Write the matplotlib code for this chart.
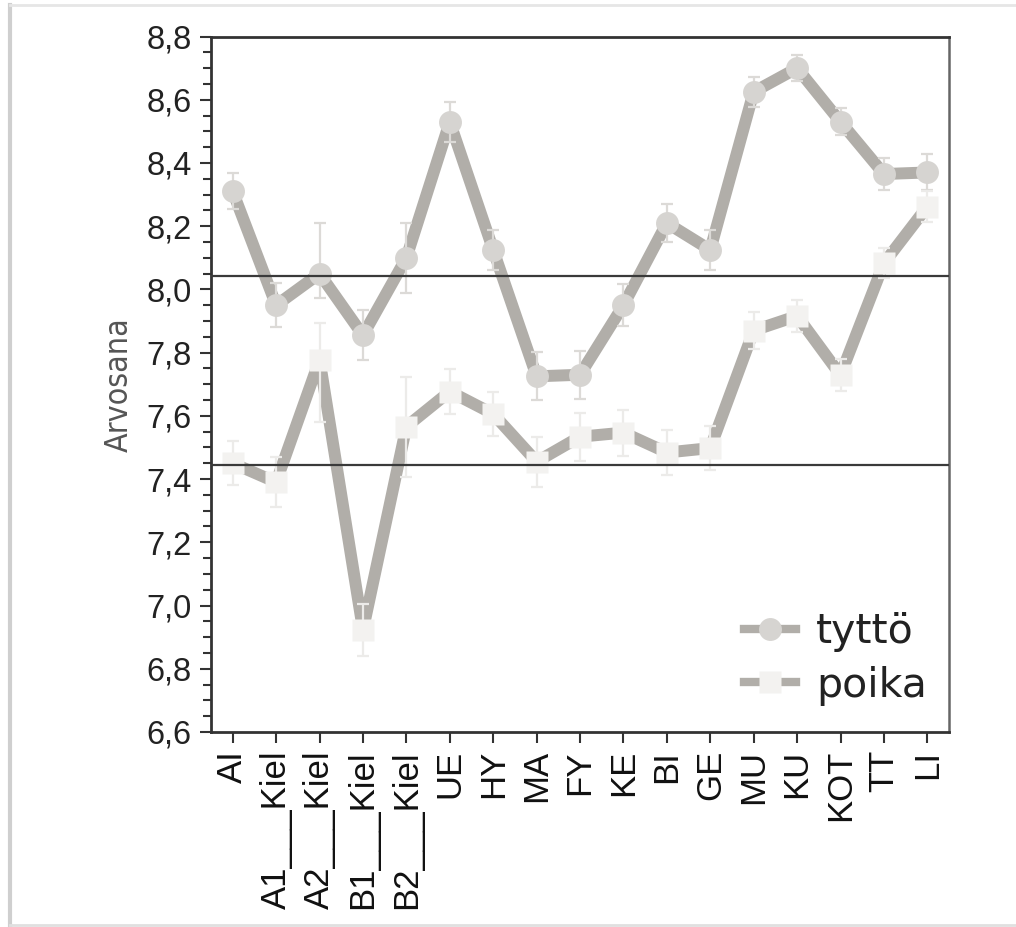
import matplotlib.pyplot as plt
import numpy as np
from matplotlib.ticker import MultipleLocator, FuncFormatter
from matplotlib.lines import Line2D

subjects = ['AI', 'A1___Kiel', 'A2___Kiel', 'B1___Kiel', 'B2___Kiel', 'UE', 'HY', 'MA',
            'FY', 'KE', 'BI', 'GE', 'MU', 'KU', 'KOT', 'TT', 'LI']

tytto = [8.31, 7.95, 8.05, 7.855, 8.10, 8.53, 8.125, 7.725, 7.73, 7.95, 8.21, 8.125,
         8.625, 8.70, 8.53, 8.365, 8.37]
tytto_err_lo = [0.057, 0.07, 0.076, 0.079, 0.11, 0.063, 0.063, 0.076, 0.076, 0.066, 0.06,
                0.063, 0.047, 0.041, 0.043, 0.05, 0.057]
tytto_err_hi = [0.057, 0.07, 0.161, 0.079, 0.11, 0.063, 0.063, 0.076, 0.076, 0.066, 0.06,
                0.063, 0.047, 0.041, 0.043, 0.05, 0.057]

poika = [7.45, 7.39, 7.777, 6.923, 7.566, 7.677, 7.606, 7.455, 7.534, 7.547, 7.484, 7.498,
         7.87, 7.916, 7.729, 8.083, 8.262]
poika_err_lo = [0.07, 0.079, 0.196, 0.082, 0.158, 0.07, 0.07, 0.079, 0.076, 0.073, 0.07, 0.07,
                0.057, 0.05, 0.05, 0.047, 0.05]
poika_err_hi = [0.07, 0.079, 0.117, 0.082, 0.158, 0.07, 0.07, 0.079, 0.076, 0.073, 0.07, 0.07,
                0.057, 0.05, 0.05, 0.047, 0.05]

mean_lines = [8.043, 7.445]

line_col = '#b1aea9'
x = np.arange(len(subjects))

fig = plt.figure(figsize=(10.16, 9.27), dpi=100)
ax = fig.add_axes([0.2077, 0.2104, 0.7264, 0.7502])

# thick connecting lines
ax.plot(x, tytto, color=line_col, lw=8.6, zorder=2, solid_capstyle='butt')
ax.plot(x, poika, color=line_col, lw=8.6, zorder=2, solid_capstyle='butt')

# error bars
ax.errorbar(x, tytto, yerr=[tytto_err_lo, tytto_err_hi], fmt='none', ecolor='#dcdad7',
            elinewidth=1.6, capsize=4, capthick=1.6, zorder=3)
ax.errorbar(x, poika, yerr=[poika_err_lo, poika_err_hi], fmt='none', ecolor='#ecebe9',
            elinewidth=1.6, capsize=4, capthick=1.6, zorder=3)

# markers
ax.plot(x, tytto, ls='none', marker='o', ms=16.5, mfc='#d6d4d1', mec='none', zorder=4)
ax.plot(x, poika, ls='none', marker='s', ms=16.5, mfc='#f3f2f0', mec='none', zorder=4)

for m in mean_lines:
    ax.axhline(m, color='#3a3a3a', lw=1.6, zorder=5)

ax.set_xlim(-0.5, len(subjects) - 0.5)
ax.set_ylim(6.6, 8.8)
ax.yaxis.set_major_locator(MultipleLocator(0.2))
ax.yaxis.set_minor_locator(MultipleLocator(0.05))
ax.yaxis.set_major_formatter(FuncFormatter(lambda v, p: f"{v:.1f}".replace('.', ',')))
ax.set_xticks(x)
ax.set_xticklabels(subjects, rotation=90, fontsize=25, family='Liberation Sans', color='#111111')
for lab in ax.get_yticklabels():
    lab.set_fontfamily('Liberation Sans')
    lab.set_fontsize(23.5)
    lab.set_color('#222222')
ax.tick_params(axis='y', which='major', length=8, width=1.5, color='#333333', pad=6)
ax.tick_params(axis='y', which='minor', length=6, width=1.5, color='#333333')
ax.tick_params(axis='x', length=8, width=1.5, color='#333333', pad=5)

ax.set_ylabel('Arvosana', fontsize=23, family='DejaVu Sans', fontstretch='condensed',
              color='#555555', labelpad=8)

for side in ['top', 'left', 'bottom']:
    ax.spines[side].set_color('#333333')
    ax.spines[side].set_linewidth(2)
ax.spines['right'].set_color('#666666')
ax.spines['right'].set_linewidth(1.8)

handles = [
    Line2D([], [], color=line_col, lw=6, marker='o', ms=16.5, mfc='#d6d4d1', mec='none'),
    Line2D([], [], color=line_col, lw=6, marker='s', ms=16.5, mfc='#f3f2f0', mec='none'),
]
ax.legend(handles, ['tyttö', 'poika'], loc='lower right', bbox_to_anchor=(1.02, -0.015),
          frameon=False, prop={'family': 'DejaVu Sans', 'size': 29.5}, handlelength=1.25,
          handletextpad=0.5, labelspacing=0.32, numpoints=1, labelcolor='#222222')

# light border of the original screenshot
fig.add_artist(Line2D([0.0098, 0.0098], [0.0, 0.995], transform=fig.transFigure,
                      color='#cfcfcf', lw=3))
fig.add_artist(Line2D([0.0098, 1.0], [0.995, 0.995], transform=fig.transFigure,
                      color='#e6e6e6', lw=2))
fig.add_artist(Line2D([0.0098, 1.0], [0.002, 0.002], transform=fig.transFigure,
                      color='#e0e0e0', lw=2))

fig.savefig('out.png', dpi=100)
